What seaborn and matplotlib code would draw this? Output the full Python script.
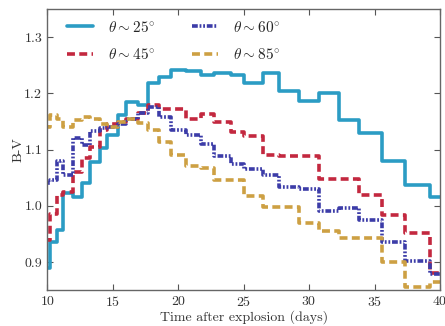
import matplotlib
matplotlib.use("Agg")
import matplotlib.pyplot as plt
import numpy as np
import pandas as pd
import seaborn as sns

# bin edges (days)
edges = [9.74, 10.23, 10.77, 11.23, 12.00, 12.69, 13.30, 14.07, 14.60, 15.37,
         15.99, 16.91, 17.67, 18.52, 19.44, 20.59, 21.74, 22.74, 24.04, 25.04,
         26.50, 27.73, 29.19, 30.72, 32.26, 33.79, 35.56, 37.32, 39.24, 41.20]

bv_25 = [0.890, 0.936, 0.957, 1.023, 1.016, 1.041, 1.078, 1.103, 1.126, 1.162,
         1.185, 1.179, 1.218, 1.229, 1.242, 1.240, 1.232, 1.237, 1.232, 1.218,
         1.237, 1.205, 1.187, 1.200, 1.153, 1.130, 1.080, 1.037, 1.016]
bv_45 = [0.940, 0.985, 1.020, 1.025, 1.060, 1.085, 1.105, 1.135, 1.145, 1.150,
         1.155, 1.165, 1.180, 1.173, 1.173, 1.155, 1.163, 1.149, 1.131, 1.125,
         1.090, 1.088, 1.088, 1.048, 1.048, 1.020, 0.983, 0.952, 0.880]
bv_60 = [1.040, 1.046, 1.080, 1.055, 1.120, 1.108, 1.133, 1.138, 1.140, 1.145,
         1.155, 1.165, 1.175, 1.158, 1.135, 1.126, 1.110, 1.088, 1.074, 1.066,
         1.055, 1.034, 1.030, 0.990, 0.996, 0.975, 0.935, 0.902, 0.878]
bv_85 = [1.140, 1.162, 1.155, 1.140, 1.153, 1.158, 1.155, 1.145, 1.140, 1.149,
         1.155, 1.147, 1.135, 1.114, 1.090, 1.070, 1.067, 1.046, 1.046, 1.018,
         0.998, 0.998, 0.970, 0.955, 0.943, 0.943, 0.900, 0.855, 0.865]

labels = [r"$\theta \sim 25^{\circ}$", r"$\theta \sim 45^{\circ}$",
          r"$\theta \sim 60^{\circ}$", r"$\theta \sim 85^{\circ}$"]
series = [bv_25, bv_45, bv_60, bv_85]
colors = ["#2b9cc4", "#c3283f", "#3c3ca8", "#cda043"]
dash_styles = [None, (2.2, 1.2), (1.6, 0.5, 0.5, 0.5, 0.5, 0.5), (2.2, 1.2)]

sns.set_style("ticks")
plt.rcParams["font.family"] = ["cmr10", "DejaVu Serif"]
plt.rcParams["mathtext.fontset"] = "cm"
plt.rcParams["axes.formatter.use_mathtext"] = True

fig = plt.figure(figsize=(4.45, 3.26), dpi=100)
ax = fig.add_axes([0.106, 0.110, 0.883, 0.862])

for lab, vals, col, dsh in zip(labels, series, colors, dash_styles):
    df = pd.DataFrame({"t": edges, "bv": list(vals) + [vals[-1]]})
    line = sns.lineplot(data=df, x="t", y="bv", ax=ax, color=col, lw=2.6,
                        drawstyle="steps-post", estimator=None, sort=False,
                        label=lab).get_lines()[-1]
    if dsh is not None:
        line.set_dashes(dsh)

ax.set_xlim(10, 40)
ax.set_ylim(0.85, 1.35)
ax.set_xticks(np.arange(10, 41, 5))
ax.set_yticks([0.9, 1.0, 1.1, 1.2, 1.3])
ax.set_yticklabels(["0.9", "1.0", "1.1", "1.2", "1.3"])
ax.tick_params(direction="in", top=True, right=True, length=4, labelsize=10,
               colors="#555555", labelcolor="#333333")
for sp in ax.spines.values():
    sp.set_color("#666666")
    sp.set_linewidth(1.0)

ax.set_xlabel("Time after explosion (days)", fontsize=10, labelpad=1, color="#333333")
ax.set_ylabel("B-V", fontsize=10, labelpad=0, color="#333333")

ax.legend(loc="upper left", bbox_to_anchor=(0.05, 0.962), ncol=2, frameon=False,
          fontsize=11, handlelength=1.7, handletextpad=1.0, columnspacing=2.4,
          labelspacing=0.8, borderpad=0, borderaxespad=0)

fig.savefig("out.png", dpi=100)
